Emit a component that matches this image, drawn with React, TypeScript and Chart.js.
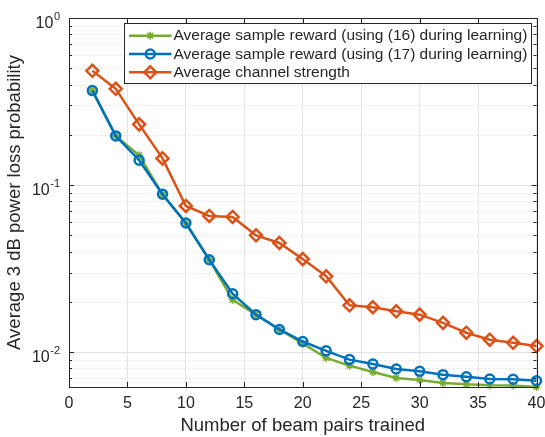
import React, { useEffect, useRef } from 'react';
import { Chart, registerables } from 'chart.js';
import { drawPoint } from 'chart.js/helpers';

Chart.register(...registerables);

const beamPairs = [2, 4, 6, 8, 10, 12, 14, 16, 18, 20, 22, 24, 26, 28, 30, 32, 34, 36, 38, 40];
const reward16 = [0.368, 0.197, 0.151, 0.088, 0.059, 0.0358, 0.0206, 0.0168, 0.0137, 0.0113, 0.00925, 0.00832, 0.00763, 0.00702, 0.00683, 0.00655, 0.00643, 0.00636, 0.00634, 0.0062];
const reward17 = [0.368, 0.197, 0.141, 0.0883, 0.0594, 0.0358, 0.0224, 0.0168, 0.0137, 0.0116, 0.0102, 0.00904, 0.00851, 0.00794, 0.00769, 0.00735, 0.00714, 0.00692, 0.0069, 0.00676];
const channelStrength = [0.483, 0.377, 0.231, 0.1446, 0.0751, 0.0654, 0.0645, 0.0501, 0.0451, 0.0361, 0.0285, 0.0191, 0.0186, 0.0176, 0.0168, 0.015, 0.0131, 0.0119, 0.0114, 0.0109];

const seriesLabels = [
  'Average sample reward (using (16) during learning)',
  'Average sample reward (using (17) during learning)',
  'Average channel strength',
];
const xTickValues = [0, 5, 10, 15, 20, 25, 30, 35, 40];
const yDecades = [0.01, 0.1, 1];
const yTickBases = ['10', '10', '10'];
const yTickExponents = ['-2', '-1', '0'];
const yMinorMultipliers = [2, 3, 4, 5, 6, 7, 8, 9];
const xTitle = 'Number of beam pairs trained';
const yTitle = 'Average 3 dB power loss probability';

const FONT = "'Liberation Sans', Arial, Helvetica, sans-serif";
const TEXT = '#262626';
const AXIS = '#262626';
const GREEN = '#77AC30';
const BLUE = '#0072BD';
const ORANGE = '#D95319';

const decorPlugin = {
  id: 'decor',
  beforeDatasetsDraw(chart: any) {
    const { ctx, chartArea: a, scales } = chart;
    const y = scales.y;
    ctx.save();
    ctx.strokeStyle = '#d2d2d2';
    ctx.lineWidth = 1;
    ctx.setLineDash([1, 3]);
    for (const d of [0.001, 0.01, 0.1]) {
      for (const m of yMinorMultipliers) {
        const v = d * m;
        if (v < y.min || v > y.max) continue;
        const py = Math.round(y.getPixelForValue(v)) + 0.5;
        ctx.beginPath();
        ctx.moveTo(a.left, py);
        ctx.lineTo(a.right, py);
        ctx.stroke();
      }
    }
    ctx.restore();
  },
  afterDatasetsDraw(chart: any) {
    const { ctx, chartArea: a, scales } = chart;
    const x = scales.x;
    const y = scales.y;
    ctx.save();
    ctx.strokeStyle = AXIS;
    ctx.lineWidth = 1;
    ctx.setLineDash([]);
    ctx.strokeRect(Math.round(a.left) + 0.5, Math.round(a.top) + 0.5, Math.round(a.right - a.left), Math.round(a.bottom - a.top));
    for (const v of xTickValues) {
      const px = Math.round(x.getPixelForValue(v)) + 0.5;
      ctx.beginPath();
      ctx.moveTo(px, a.bottom);
      ctx.lineTo(px, a.bottom - 5);
      ctx.moveTo(px, a.top);
      ctx.lineTo(px, a.top + 5);
      ctx.stroke();
    }
    for (const v of yDecades) {
      const py = Math.round(y.getPixelForValue(v)) + 0.5;
      ctx.beginPath();
      ctx.moveTo(a.left, py);
      ctx.lineTo(a.left + 5, py);
      ctx.moveTo(a.right, py);
      ctx.lineTo(a.right - 5, py);
      ctx.stroke();
    }
    for (const d of [0.001, 0.01, 0.1]) {
      for (const m of yMinorMultipliers) {
        const v = d * m;
        if (v < y.min || v > y.max) continue;
        const py = Math.round(y.getPixelForValue(v)) + 0.5;
        ctx.beginPath();
        ctx.moveTo(a.left, py);
        ctx.lineTo(a.left + 3, py);
        ctx.moveTo(a.right, py);
        ctx.lineTo(a.right - 3, py);
        ctx.stroke();
      }
    }
    ctx.fillStyle = TEXT;
    ctx.textAlign = 'right';
    ctx.textBaseline = 'alphabetic';
    yDecades.forEach((v, i) => {
      const py = y.getPixelForValue(v);
      const xEnd = a.left - 9;
      ctx.font = `11px ${FONT}`;
      const ew = ctx.measureText(yTickExponents[i]).width;
      ctx.fillText(yTickExponents[i], xEnd, py + 1.5);
      ctx.font = `16px ${FONT}`;
      ctx.fillText(yTickBases[i], xEnd - ew - 0.5, py + 9.5);
    });
    const lx = 124.5, ly = 23.5, lw = 407, lh = 60;
    ctx.fillStyle = '#ffffff';
    ctx.fillRect(lx, ly, lw, lh);
    ctx.strokeStyle = AXIS;
    ctx.lineWidth = 1;
    ctx.strokeRect(lx, ly, lw, lh);
    const rows = [35.7, 54, 72.3];
    chart.data.datasets.forEach((ds: any, i: number) => {
      const ry = rows[i];
      ctx.strokeStyle = ds.borderColor;
      ctx.lineWidth = ds.borderWidth;
      ctx.beginPath();
      ctx.moveTo(129, ry);
      ctx.lineTo(171.5, ry);
      ctx.stroke();
      ctx.fillStyle = 'rgba(0,0,0,0)';
      ctx.strokeStyle = ds.pointBorderColor;
      ctx.lineWidth = ds.pointBorderWidth;
      drawPoint(ctx, { pointStyle: ds.pointStyle, radius: ds.pointRadius, rotation: 0, borderWidth: ds.pointBorderWidth } as any, 150.25, ry);
      ctx.fillStyle = TEXT;
      ctx.font = `15.5px ${FONT}`;
      ctx.textAlign = 'left';
      ctx.textBaseline = 'middle';
      ctx.fillText(ds.label, 173.5, ry + 0.5);
    });
    ctx.restore();
  },
};

export default function App() {
  const ref = useRef<HTMLCanvasElement | null>(null);
  useEffect(() => {
    if (!ref.current) return;
    const mk = (label: string, data: number[], color: string, style: string, radius: number, pbw: number, order: number) => ({
      label,
      data: data.map((v, i) => ({ x: beamPairs[i], y: v })),
      borderColor: color,
      backgroundColor: 'rgba(0,0,0,0)',
      pointBorderColor: color,
      pointBackgroundColor: 'rgba(0,0,0,0)',
      borderWidth: 2.5,
      pointStyle: style,
      pointRadius: radius,
      pointBorderWidth: pbw,
      tension: 0,
      clip: false as any,
      order,
    });
    const chart = new Chart(ref.current, {
      type: 'line',
      data: {
        datasets: [
          mk(seriesLabels[0], reward16, GREEN, 'star', 4, 1.5, 3),
          mk(seriesLabels[1], reward17, BLUE, 'circle', 4.5, 2.5, 2),
          mk(seriesLabels[2], channelStrength, ORANGE, 'rectRot', 6, 2.5, 1),
        ] as any,
      },
      options: {
        animation: false,
        responsive: true,
        maintainAspectRatio: false,
        layout: { padding: { top: 18, right: 8, left: 0, bottom: 0 } },
        plugins: { legend: { display: false }, tooltip: { enabled: false } },
        scales: {
          x: {
            type: 'linear',
            min: 0,
            max: 40,
            afterBuildTicks: (s: any) => { s.ticks = xTickValues.map((v) => ({ value: v })); },
            afterFit: (s: any) => { s.height = 50; s.paddingLeft = 0; s.paddingRight = 0; },
            ticks: { color: TEXT, font: { family: FONT, size: 16 }, padding: 7, maxRotation: 0 },
            grid: { color: '#e3e3e3', lineWidth: 1, drawTicks: false },
            border: { display: false },
            title: { display: true, text: xTitle, color: TEXT, font: { family: FONT, size: 18.5 }, padding: { top: 0, bottom: 0 } },
          },
          y: {
            type: 'logarithmic',
            min: 0.0062,
            max: 1,
            afterBuildTicks: (s: any) => { s.ticks = yDecades.map((v) => ({ value: v, major: true })); },
            afterFit: (s: any) => { s.width = 69; s.paddingTop = 0; s.paddingBottom = 0; },
            ticks: { display: false },
            grid: { color: '#e3e3e3', lineWidth: 1, drawTicks: false },
            border: { display: false },
            title: { display: true, text: yTitle, color: TEXT, font: { family: FONT, size: 18.5 }, padding: { top: 3.4, bottom: 0 } },
          },
        },
      },
      plugins: [decorPlugin],
    });
    return () => chart.destroy();
  }, []);
  return (
    <div style={{ position: 'fixed', left: 0, top: 0, width: 545, height: 437, background: '#fff' }}>
      <canvas ref={ref} />
    </div>
  );
}
